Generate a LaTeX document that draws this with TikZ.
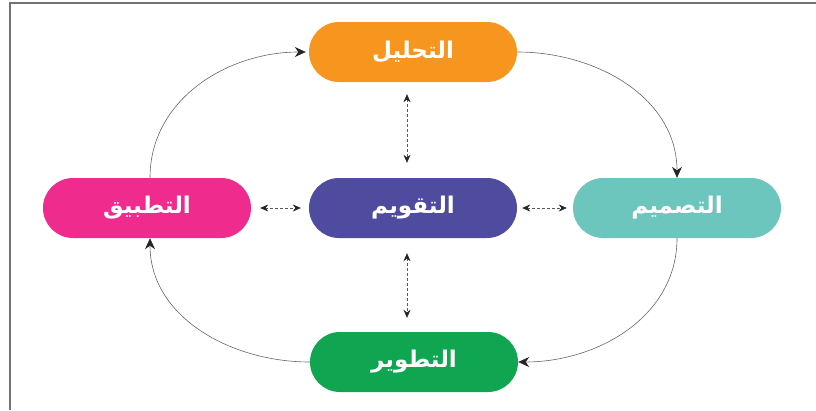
\documentclass[tikz,border=0pt]{standalone}
\usepackage{fontspec}
\newfontfamily\arabicfont[Script=Arabic]{DejaVu Sans}
\TeXXeTstate=1
\usetikzlibrary{arrows.meta}
\definecolor{anacol}{HTML}{F7961E}
\definecolor{descol}{HTML}{6DC6BD}
\definecolor{devcol}{HTML}{10A651}
\definecolor{appcol}{HTML}{EF2B8E}
\definecolor{evalcol}{HTML}{4F4C9F}
\tikzset{
	phase/.style={rectangle, rounded corners=30pt, minimum width=208pt, minimum height=60pt, text=white, font=\arabicfont\bfseries\fontsize{23}{26}\selectfont},
	cycle/.style={draw=black!60, line width=0.6pt, -{Stealth[length=11pt,width=10pt,color=black!85]}},
	link/.style={draw=black!65, line width=0.6pt, dash pattern=on 2.5pt off 2.5pt, {Stealth[length=8pt,width=7pt,color=black!85]}-{Stealth[length=8pt,width=7pt,color=black!85]}}
}

\begin{document}
\begin{tikzpicture}[x=1pt,y=-1pt]
		%%%%% START %%%%%
		\useasboundingbox (0,0) rectangle (816,410);
		\draw[black!55, line width=1.3pt] (10,410) -- (10,3) -- (816,3);
		
		\node[phase, fill=anacol] (ana) at (413,52) {\beginR التحليل\endR};
		\node[phase, fill=appcol] (app) at (147,208) {\beginR التطبيق\endR};
		\node[phase, fill=evalcol] (eval) at (413,208) {\beginR التقويم\endR};
		\node[phase, fill=descol] (des) at (677,208) {\beginR التصميم\endR};
		\node[phase, fill=devcol] (dev) at (414,362) {\beginR التطوير\endR};
		
		\draw[cycle] (ana.east) to[out=0, in=90] (des.north);
		\draw[cycle] (des.south) to[out=-90, in=0] (dev.east);
		\draw[cycle] (dev.west) to[out=180, in=-90] ([xshift=3pt]app.south);
		\draw[cycle] ([xshift=3pt]app.north) to[out=90, in=180] ([xshift=-3pt]ana.west);
		
		\draw[link, shorten <=12pt, shorten >=15pt] ([xshift=-6pt]ana.south) -- ([xshift=-6pt]eval.north);
		\draw[link, shorten <=15pt, shorten >=14pt] ([xshift=-6pt]eval.south) -- ([xshift=-7pt]dev.north);
		\draw[link, shorten <=9pt, shorten >=8pt] (app.east) -- (eval.west);
		\draw[link, shorten <=5pt, shorten >=6pt] (eval.east) -- (des.west);
		%%%%% END %%%%%
\end{tikzpicture}
\end{document}
